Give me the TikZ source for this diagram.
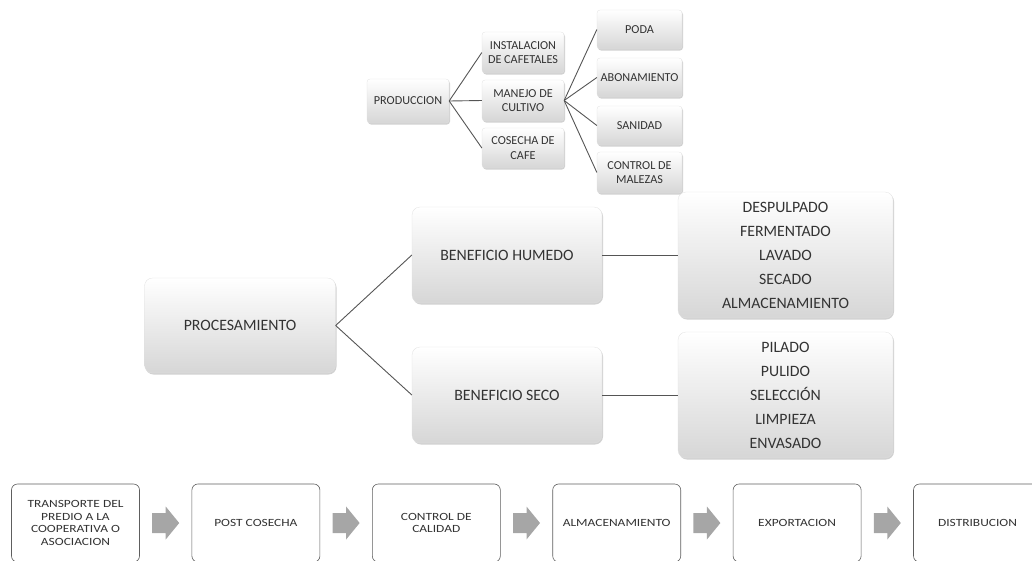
\documentclass[tikz,border=0pt]{standalone}
\usepackage{fontspec}
\setmainfont{Carlito}
\newfontfamily\widefont[FakeStretch=1.22]{Carlito}
\usetikzlibrary{shadows,calc}
\definecolor{txt}{HTML}{333333}
\definecolor{lnc}{HTML}{555555}
\definecolor{arr}{HTML}{A6A6A6}
\definecolor{bord}{HTML}{5E5E5E}
\tikzset{
  gbox/.style={rounded corners=3pt, draw=black!12, line width=0.3pt,
    top color=white, bottom color=black!16, text=txt, align=center,
    inner sep=1pt,
    drop shadow={shadow xshift=1pt, shadow yshift=-1.5pt, opacity=.3, fill=black!60}},
  small/.style={gbox, font=\fontsize{12.2}{14.3}\selectfont},
  mid/.style={gbox, rounded corners=8pt, font=\fontsize{15.8}{18}\selectfont},
  list/.style={gbox, rounded corners=8pt, font=\fontsize{15.8}{24}\selectfont},
  flow/.style={rounded corners=6pt, draw=bord, line width=0.6pt, fill=white,
    text=txt, align=center, minimum width=128pt, minimum height=78pt,
    inner sep=1pt, font=\widefont\fontsize{11}{12.7}\selectfont},
  link/.style={draw=lnc, line width=0.9pt},
  blockarrow/.pic={\fill[arr] (-13.5,-10)--(0,-10)--(0,-16.5)--(13.5,0)--(0,16.5)--(0,10)--(-13.5,10)--cycle;}
}
\begin{document}
\begin{tikzpicture}[x=1pt,y=-1pt]
\useasboundingbox (0,0) rectangle (1032,560);
% top section
\node[small, minimum width=82pt, minimum height=44pt] (prod) at (408,101) {PRODUCCION};
\node[small, minimum width=82pt, minimum height=41pt] (inst) at (523,52.5) {INSTALACION\\DE CAFETALES};
\node[small, minimum width=82pt, minimum height=41pt] (man) at (523,100.5) {MANEJO DE\\CULTIVO};
\node[small, minimum width=82pt, minimum height=40pt] (cos) at (523,148) {COSECHA DE\\CAFE};
\node[small, minimum width=85pt, minimum height=39pt] (poda) at (639.5,29.5) {PODA};
\node[small, minimum width=85pt, minimum height=39pt] (abon) at (639.5,77.5) {ABONAMIENTO};
\node[small, minimum width=85pt, minimum height=39pt] (san) at (639.5,125.5) {SANIDAD};
\node[small, minimum width=85pt, minimum height=41pt] (ctrl) at (639.5,172.5) {CONTROL DE\\MALEZAS};
\draw[link] (prod.east) -- (inst.west);
\draw[link] (prod.east) -- (man.west);
\draw[link] (prod.east) -- (cos.west);
\draw[link] (man.east) -- (poda.west);
\draw[link] (man.east) -- (abon.west);
\draw[link] (man.east) -- (san.west);
\draw[link] (man.east) -- (ctrl.west);
% middle section
\node[mid, minimum width=191pt, minimum height=95pt] (proc) at (240,325.5) {PROCESAMIENTO};
\node[mid, minimum width=190pt, minimum height=96pt] (bh) at (507,255) {BENEFICIO HUMEDO};
\node[mid, minimum width=190pt, minimum height=96pt] (bs) at (507,395) {BENEFICIO SECO};
\node[list, minimum width=215pt, minimum height=126pt] (rh) at (785.5,255) {DESPULPADO\\FERMENTADO\\LAVADO\\SECADO\\ALMACENAMIENTO};
\node[list, minimum width=215pt, minimum height=126pt] (rs) at (785.5,395) {PILADO\\PULIDO\\SELECCIÓN\\LIMPIEZA\\ENVASADO};
\draw[link] (proc.east) -- (bh.west);
\draw[link] (proc.east) -- (bs.west);
\draw[link] (bh.east) -- (rh.west);
\draw[link] (bs.east) -- (rs.west);
% bottom flow
\node[flow] (f1) at (75.5,523) {TRANSPORTE DEL\\PREDIO A LA\\COOPERATIVA O\\ASOCIACION};
\node[flow] (f2) at (255.9,523) {POST COSECHA};
\node[flow] (f3) at (436.3,523) {CONTROL DE\\CALIDAD};
\node[flow] (f4) at (616.7,523) {ALMACENAMIENTO};
\node[flow] (f5) at (797.1,523) {EXPORTACION};
\node[flow] (f6) at (977.5,523) {DISTRIBUCION};
\pic at ($(f1.east)!0.5!(f2.west)$) {blockarrow};
\pic at ($(f2.east)!0.5!(f3.west)$) {blockarrow};
\pic at ($(f3.east)!0.5!(f4.west)$) {blockarrow};
\pic at ($(f4.east)!0.5!(f5.west)$) {blockarrow};
\pic at ($(f5.east)!0.5!(f6.west)$) {blockarrow};
\end{tikzpicture}
\end{document}
